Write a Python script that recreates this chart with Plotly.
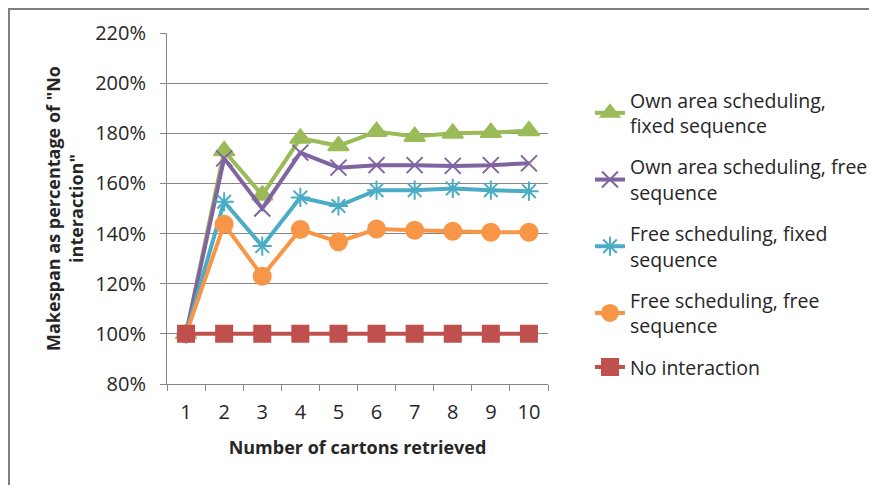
import plotly.graph_objects as go

categories = ["1", "2", "3", "4", "5", "6", "7", "8", "9", "10"]

own_fixed = [1.00, 1.73, 1.553, 1.78, 1.75, 1.807, 1.787, 1.80, 1.803, 1.81]
own_free = [1.00, 1.70, 1.50, 1.723, 1.663, 1.673, 1.673, 1.67, 1.673, 1.68]
free_fixed = [1.00, 1.527, 1.35, 1.544, 1.51, 1.573, 1.573, 1.58, 1.573, 1.569]
free_free = [1.00, 1.437, 1.23, 1.416, 1.367, 1.418, 1.413, 1.409, 1.405, 1.405]
no_inter = [1.00, 1.00, 1.00, 1.00, 1.00, 1.00, 1.00, 1.00, 1.00, 1.00]

names = [
    "Own area scheduling,<br>fixed sequence",
    "Own area scheduling, free<br>sequence",
    "Free scheduling, fixed<br>sequence",
    "Free scheduling, free<br>sequence",
    "No interaction",
]
series = [own_fixed, own_free, free_fixed, free_free, no_inter]
colors = ["#9BBB59", "#8064A2", "#4BACC6", "#F79646", "#C0504D"]
symbols = ["triangle-up", "x-thin-open", "asterisk-open", "circle", "square"]
sizes = [18, 16, 16, 17, 16]

FONT = "'Open Sans', Lato, sans-serif"
TXT = "#262626"

fig = go.Figure()
for i, (nm, vals, col, sym, sz) in enumerate(zip(names, series, colors, symbols, sizes)):
    fig.add_trace(go.Scatter(
        x=categories, y=vals, name=nm, mode="lines+markers",
        legendgroup=f"g{i}",
        line=dict(color=col, width=4),
        marker=dict(color=col, symbol=sym, size=sz,
                    line=dict(color=col, width=2)),
    ))

# page has an 8px body margin, so the figure is 8px smaller and shifted
W, H = 869, 477
L, R, T, B = 159, 540, 25, 376
pw, ph = R - L, B - T

def px(x):
    return (x - L) / pw

def py(y):
    return (B - y) / ph

fig.update_layout(
    width=W, height=H,
    margin=dict(l=L, r=W - R, t=T, b=H - B, autoexpand=False),
    paper_bgcolor="white", plot_bgcolor="white",
    font=dict(family=FONT, size=16, color=TXT),
    showlegend=True,
    legend=dict(
        x=px(582), y=py(73), xanchor="left", yanchor="top",
        font=dict(size=19.5, color=TXT),
        traceorder="grouped", tracegroupgap=13,
        itemwidth=30, bgcolor="rgba(0,0,0,0)",
    ),
    xaxis=dict(
        type="category", range=[-0.5, 9.5], automargin=False,
        showline=True, linecolor="#868686", linewidth=1,
        ticks="outside", tickson="boundaries", ticklen=6, tickcolor="#868686",
        showgrid=False, zeroline=False, ticklabelstandoff=10,
        tickfont=dict(size=20, color=TXT),
        title=dict(text="<b>Number of cartons retrieved</b>", standoff=17,
                   font=dict(size=18, color=TXT)),
    ),
    yaxis=dict(
        range=[0.8, 2.2], dtick=0.2, tick0=0.8, tickformat=".0%", automargin=False,
        showline=True, linecolor="#868686", linewidth=1,
        ticks="outside", ticklen=6, tickcolor="#868686",
        showgrid=True, gridcolor="#868686", gridwidth=1, zeroline=False,
        ticklabelstandoff=10,
        tickfont=dict(size=20, color=TXT),
        title=dict(text="<b>Makespan as percentage of \"No<br>interaction\"</b>",
                   standoff=6, font=dict(size=18, color=TXT)),
    ),
)

# outer chart frame (top and left edges visible)
fig.add_shape(type="path", xref="paper", yref="paper",
              path=f"M {px(0.5)} {py(490)} L {px(0.5)} {py(0.5)} L {px(885)} {py(0.5)}",
              line=dict(color="#7F7F7F", width=3))

fig.write_html("out.html")
